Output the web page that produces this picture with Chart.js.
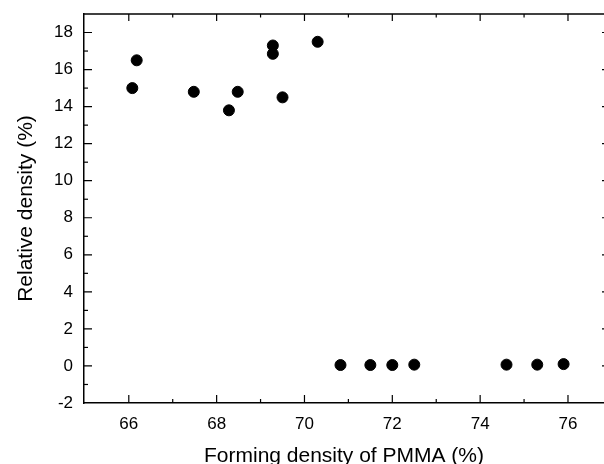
<!DOCTYPE html>
<html>
<head>
<meta charset="utf-8">
<script src="https://cdn.jsdelivr.net/npm/chart.js@4.4.1/dist/chart.umd.min.js"></script>
<style>
  html, body { margin: 0; padding: 0; background: #fff; }
  #wrap { width: 604px; height: 464px; position: relative; }
</style>
</head>
<body>
<div id="wrap"><canvas id="c" width="604" height="464"></canvas></div>
<script>
// Data
const formingDensity = [66.08, 66.18, 67.48, 68.28, 68.48, 69.28, 69.28, 69.5, 70.3,
                        70.82, 71.5, 72.0, 72.5, 74.6, 75.3, 75.9];
const relativeDensity = [15.0, 16.5, 14.8, 13.8, 14.8, 17.3, 16.85, 14.5, 17.5,
                         0.05, 0.05, 0.05, 0.07, 0.07, 0.07, 0.1];
const xTickLabels = [66, 68, 70, 72, 74, 76];
const yTickLabels = [-2, 0, 2, 4, 6, 8, 10, 12, 14, 16, 18];
const xTitle = 'Forming density of PMMA (%)';
const yTitle = 'Relative density (%)';

const points = formingDensity.map((x, i) => ({ x: x, y: relativeDensity[i] }));

const FONT = "'Liberation Sans', Arial, sans-serif";

const innerTicks = {
  id: 'innerTicks',
  afterDraw(chart) {
    const ctx = chart.ctx;
    const a = chart.chartArea;
    const xs = chart.scales.x, ys = chart.scales.y;
    ctx.save();
    ctx.strokeStyle = '#000';
    ctx.lineWidth = 1.5;
    // top frame line
    ctx.beginPath();
    ctx.moveTo(a.left, a.top);
    ctx.lineTo(a.right, a.top);
    ctx.stroke();
    ctx.lineWidth = 1.2;
    // x ticks (bottom and top), major at even, minor at odd
    for (let v = 65; v <= 77; v++) {
      const px = xs.getPixelForValue(v);
      if (px < a.left + 1 || px > a.right - 1) continue;
      const len = (v % 2 === 0) ? 8 : 4;
      ctx.beginPath();
      ctx.moveTo(px, a.bottom); ctx.lineTo(px, a.bottom - len);
      ctx.moveTo(px, a.top); ctx.lineTo(px, a.top + 7 * len / 8);
      ctx.stroke();
    }
    // y ticks on the left; only short stubs survive at the cut right edge
    for (let v = -1; v <= 19; v++) {
      const py = ys.getPixelForValue(v);
      if (py < a.top + 1 || py > a.bottom - 1) continue;
      const major = (v % 2 === 0);
      const len = major ? 8 : 4;
      ctx.beginPath();
      ctx.moveTo(a.left, py); ctx.lineTo(a.left + len, py);
      if (major) { ctx.moveTo(a.right, py); ctx.lineTo(a.right - 2, py); }
      ctx.stroke();
    }
    ctx.restore();
  }
};

new Chart(document.getElementById('c'), {
  type: 'scatter',
  data: {
    datasets: [{
      data: points,
      backgroundColor: '#000',
      borderColor: '#000',
      pointRadius: 5.5,
      pointHoverRadius: 5.5,
      pointStyle: 'circle'
    }]
  },
  options: {
    responsive: false,
    animation: false,
    devicePixelRatio: 1,
    layout: { autoPadding: false, padding: { left: 0, right: 0, top: 14, bottom: 0 } },
    plugins: { legend: { display: false }, tooltip: { enabled: false } },
    scales: {
      x: {
        type: 'linear',
        min: 64.98,
        max: 76.82,
        afterBuildTicks(scale) {
          scale.ticks = xTickLabels.map(v => ({ value: v }));
        },
        afterFit(scale) {
          scale.height = 61;
          scale.paddingLeft = 0;
          scale.paddingRight = 0;
        },
        grid: { display: false, drawTicks: false },
        border: { display: true, color: '#000', width: 1.5 },
        ticks: {
          color: '#000',
          padding: 11,
          font: { family: FONT, size: 17 },
          maxRotation: 0,
          autoSkip: false
        },
        title: {
          display: true,
          text: xTitle,
          color: '#000',
          padding: { top: 0, bottom: -4.6 },
          font: { family: FONT, size: 21 }
        }
      },
      y: {
        type: 'linear',
        min: -2,
        max: 19,
        afterBuildTicks(scale) {
          scale.ticks = yTickLabels.map(v => ({ value: v }));
        },
        afterFit(scale) {
          scale.width = 84;
          scale.paddingTop = 0;
          scale.paddingBottom = 0;
        },
        grid: { display: false, drawTicks: false },
        border: { display: true, color: '#000', width: 1.5 },
        ticks: {
          color: '#000',
          padding: 11,
          font: { family: FONT, size: 17 },
          autoSkip: false
        },
        title: {
          display: true,
          text: yTitle,
          color: '#000',
          padding: { top: 13.4, bottom: 0 },
          font: { family: FONT, size: 21 }
        }
      }
    }
  },
  plugins: [innerTicks]
});
</script>
</body>
</html>
